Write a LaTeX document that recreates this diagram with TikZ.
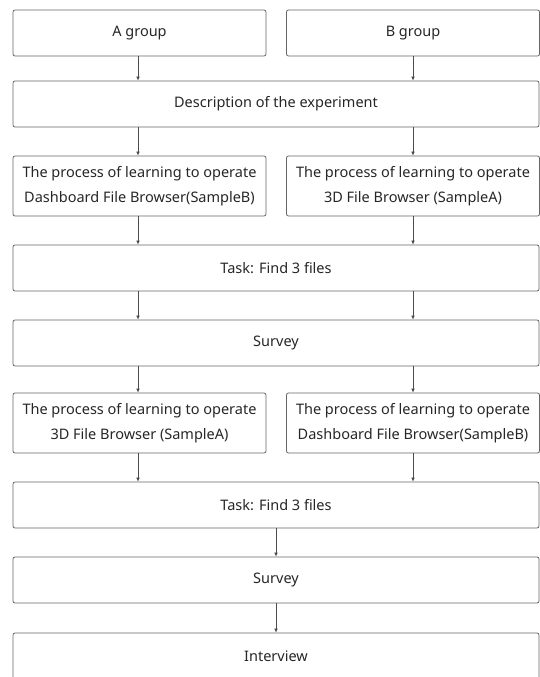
\documentclass[tikz,border=0pt]{standalone}
\usepackage{fontspec}
\setmainfont{Noto Sans}
\usetikzlibrary{arrows.meta}
\begin{document}
\begin{tikzpicture}[x=1pt,y=-1pt,
  box/.style={draw=black!60,line width=0.8pt,rounded corners=2pt,inner sep=0pt,
    align=center,font=\fontsize{14.5}{24.5}\selectfont,text=black!85},
  wide/.style={box,minimum width=526pt,minimum height=46pt},
  half/.style={box,minimum width=253pt,minimum height=46pt},
  tall/.style={box,minimum width=253pt,minimum height=60pt},
  arr/.style={draw=black!70,line width=0.6pt,-{Latex[length=4pt,width=3.6pt]}}]
\clip (0,0) rectangle (540,677);
\useasboundingbox (0,0) rectangle (540,677);
\node[half] (A) at (139.5,33) {A group};
\node[half] (B) at (413,33) {B group};
\node[wide] (D) at (276,104) {Description of the experiment};
\node[tall] (P1L) at (139.5,186) {The process of learning to operate\\Dashboard File Browser(SampleB)};
\node[tall] (P1R) at (413,186) {The process of learning to operate\\3D File Browser (SampleA)};
\node[wide] (T1) at (276,268) {Task: Find 3 files};
\node[wide] (S1) at (276,343) {Survey};
\node[tall] (P2L) at (139.5,423) {The process of learning to operate\\3D File Browser (SampleA)};
\node[tall] (P2R) at (413,423) {The process of learning to operate\\Dashboard File Browser(SampleB)};
\node[wide] (T2) at (276,505) {Task: Find 3 files};
\node[wide] (S2) at (276,580) {Survey};
\node[wide] (I) at (276,656) {Interview};
\coordinate (xl) at (138,0);
\coordinate (xr) at (413,0);
\draw[arr] (A.south -| xl) -- (D.north -| xl);
\draw[arr] (B.south -| xr) -- (D.north -| xr);
\draw[arr] (D.south -| xl) -- (P1L.north -| xl);
\draw[arr] (D.south -| xr) -- (P1R.north -| xr);
\draw[arr] (P1L.south -| xl) -- (T1.north -| xl);
\draw[arr] (P1R.south -| xr) -- (T1.north -| xr);
\draw[arr] (T1.south -| xl) -- (S1.north -| xl);
\draw[arr] (T1.south -| xr) -- (S1.north -| xr);
\draw[arr] (S1.south -| xl) -- (P2L.north -| xl);
\draw[arr] (S1.south -| xr) -- (P2R.north -| xr);
\draw[arr] (P2L.south -| xl) -- (T2.north -| xl);
\draw[arr] (P2R.south -| xr) -- (T2.north -| xr);
\draw[arr] (T2) -- (S2);
\draw[arr] (S2) -- (I);
\end{tikzpicture}
\end{document}
